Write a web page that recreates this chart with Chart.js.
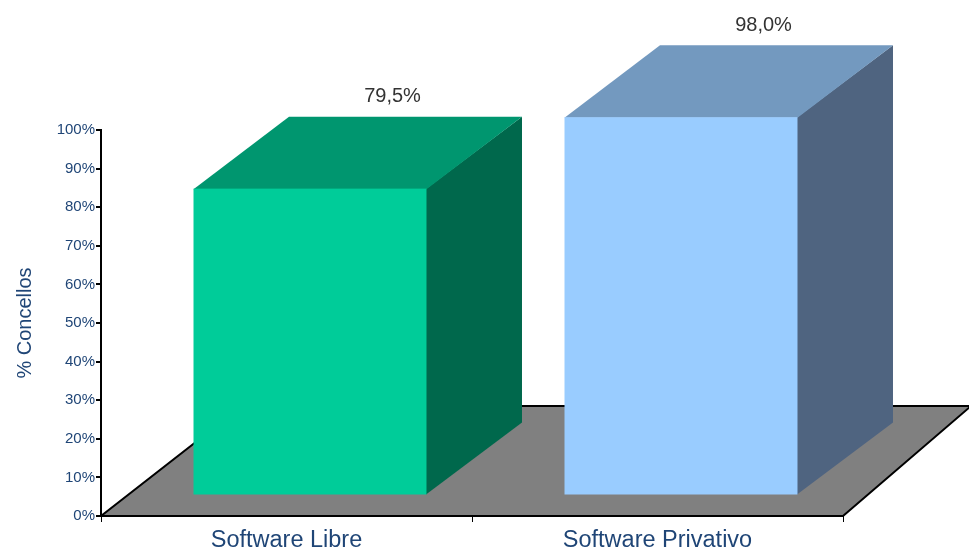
<!DOCTYPE html>
<html>
<head>
<meta charset="utf-8">
<script src="https://cdn.jsdelivr.net/npm/chart.js@4/dist/chart.umd.min.js"></script>
<style>
  html, body { margin: 0; padding: 0; background: #ffffff; }
  #wrap { width: 969px; height: 552px; }
</style>
</head>
<body>
<div id="wrap"><canvas id="c" width="969" height="552"></canvas></div>
<script>
// ---- data ----
const categories = ['Software Libre', 'Software Privativo'];
const values = [79.5, 98.0];
const valueLabels = ['79,5%', '98,0%'];
const yTicks = [0, 10, 20, 30, 40, 50, 60, 70, 80, 90, 100];
const yTitle = '% Concellos';

// ---- styles ----
const faceFront = ['#00CC99', '#99CCFF'];
const faceTop = ['#00966F', '#7399BF'];
const faceSide = ['#00684C', '#4F6480'];
const axisText = '#1F4576';

const bar3d = {
  id: 'bar3d',
  beforeDatasetsDraw(chart) {
    const { ctx, chartArea: ca, scales } = chart;
    const y = scales.y;
    const y0 = y.getPixelForValue(0);
    ctx.save();
    // floor
    ctx.beginPath();
    ctx.moveTo(ca.left, y0);
    ctx.lineTo(ca.right, y0);
    ctx.lineTo(ca.right + 128, y0 - 110);
    ctx.lineTo(ca.left + 141, y0 - 110);
    ctx.closePath();
    ctx.fillStyle = '#808080';
    ctx.fill();
    ctx.lineWidth = 2;
    ctx.strokeStyle = '#000000';
    ctx.lineJoin = 'miter';
    ctx.stroke();

    const meta = chart.getDatasetMeta(0);
    const sx = 23.5, sy = -20.5, dx = 95.5, dy = -72;
    meta.data.forEach((bar, i) => {
      const p = bar.getProps(['x', 'y', 'base', 'width'], true);
      const L = p.x - p.width / 2 + sx;
      const R = p.x + p.width / 2 + sx;
      const T = p.y + sy;
      const B = p.base + sy;
      // side
      ctx.beginPath();
      ctx.moveTo(R - 0.5, T);
      ctx.lineTo(R + dx, T + dy);
      ctx.lineTo(R + dx, B + dy);
      ctx.lineTo(R - 0.5, B);
      ctx.closePath();
      ctx.fillStyle = faceSide[i];
      ctx.fill();
      // top
      ctx.beginPath();
      ctx.moveTo(L, T + 0.5);
      ctx.lineTo(R, T + 0.5);
      ctx.lineTo(R + dx, T + dy);
      ctx.lineTo(L + dx, T + dy);
      ctx.closePath();
      ctx.fillStyle = faceTop[i];
      ctx.fill();
      // front
      ctx.fillStyle = faceFront[i];
      ctx.fillRect(L, T, R - L, B - T);
      // value label
      ctx.fillStyle = '#333333';
      ctx.font = '20px "Liberation Sans", Arial, sans-serif';
      ctx.textAlign = 'center';
      ctx.textBaseline = 'middle';
      ctx.fillText(valueLabels[i], p.x + 106, T + dy - 20);
    });
    ctx.restore();
  }
};

new Chart(document.getElementById('c'), {
  type: 'bar',
  data: {
    labels: categories,
    datasets: [{
      data: values,
      backgroundColor: 'rgba(0,0,0,0)',
      borderWidth: 0,
      barPercentage: 0.628,
      categoryPercentage: 1.0
    }]
  },
  options: {
    responsive: false,
    animation: false,
    devicePixelRatio: 1,
    layout: { padding: { top: 130, right: 126, left: 0, bottom: 0 } },
    plugins: { legend: { display: false }, tooltip: { enabled: false } },
    scales: {
      x: {
        afterFit(s) { s.height = 36; },
        grid: { display: true, drawOnChartArea: false, offset: true, tickLength: 6, tickColor: '#000000', lineWidth: 1 },
        border: { display: true, color: '#000000', width: 2 },
        ticks: { color: axisText, font: { family: '"Liberation Sans", Arial, sans-serif', size: 23.5 }, padding: 4 }
      },
      y: {
        min: 0, max: 100,
        afterFit(s) { s.width = 101; },
        afterBuildTicks(s) { s.ticks = yTicks.map(v => ({ value: v })); },
        grid: { display: true, drawOnChartArea: false, tickLength: 5, tickColor: '#000000', lineWidth: 2 },
        border: { display: true, color: '#000000', width: 2 },
        ticks: {
          color: axisText,
          font: { family: '"Liberation Sans", Arial, sans-serif', size: 15 },
          padding: 1,
          callback: v => v + '%'
        },
        title: {
          display: true,
          text: yTitle,
          color: axisText,
          font: { family: '"Liberation Sans", Arial, sans-serif', size: 20 },
          padding: { top: 13, bottom: 0 }
        }
      }
    }
  },
  plugins: [bar3d]
});
</script>
</body>
</html>
